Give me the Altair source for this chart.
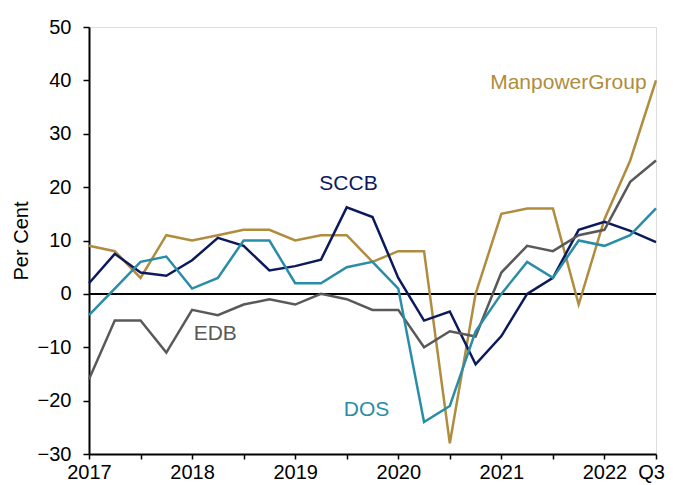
import altair as alt
import pandas as pd

quarters = list(range(23))  # 2017 Q1 .. 2022 Q3

manpower = [9, 8, 3, 11, 10, 11, 12, 12, 10, 11, 11, 6, 8, 8, -28, 0, 15, 16, 16, -2, 14, 25, 40]
sccb = [2, 7.5, 4, 3.4, 6.3, 10.5, 9, 4.4, 5.2, 6.4, 16.2, 14.4, 3, -5, -3.3, -13.2, -7.9, 0, 3, 12, 13.5, 11.8, 9.7]
edb = [-16, -5, -5, -11, -3, -4, -2, -1, -2, 0, -1, -3, -3, -10, -7, -8, 4, 9, 8, 11, 12, 21, 25]
dos = [-4, 1, 6, 7, 1, 3, 10, 10, 2, 2, 5, 6, 1, -24, -21, -7, 0, 6, 3, 10, 9, 11, 16]

series_names = ["ManpowerGroup", "SCCB", "EDB", "DOS"]
series_colors = ["#B08C3E", "#0C1A5B", "#595959", "#2A8DA8"]

tick_labels = {0: "2017", 4: "2018", 8: "2019", 12: "2020", 16: "2021", 20: "2022", 22: "Q3"}

label_x = [18.6, 10.07, 4.9, 10.77]
label_y = [39.6, 20.5, -7.5, -21.8]

rows = []
for name, vals in zip(series_names, [manpower, sccb, edb, dos]):
    for q, v in zip(quarters, vals):
        rows.append({"q": q, "value": v, "series": name})
df = pd.DataFrame(rows)

lab_df = pd.DataFrame({"series": series_names, "x": label_x, "y": label_y})

label_expr = "{" + ",".join(f"'{k}':'{v}'" for k, v in tick_labels.items()) + "}[datum.value] || ''"

x_scale = alt.Scale(domain=[0, 22], nice=False, zero=False)
y_scale = alt.Scale(domain=[-30, 50], nice=False)
color_scale = alt.Scale(domain=series_names, range=series_colors)

FONT = "Liberation Sans"

lines = alt.Chart(df).mark_line(strokeWidth=2.5, strokeJoin="miter").encode(
    x=alt.X("q:Q", scale=x_scale,
            axis=alt.Axis(values=quarters, labelExpr=label_expr, title=None, grid=False,
                          domainColor="black", domainWidth=2, tickColor="black", tickWidth=1.5,
                          tickSize=5, labelFontSize=20, labelColor="black", labelFont=FONT,
                          labelPadding=3, labelOverlap=False, labelFlush=False,
                          labelOffset={"expr": "datum.value == 22 ? -5 : 0"})),
    y=alt.Y("value:Q", scale=y_scale,
            axis=alt.Axis(values=list(range(-30, 51, 10)), title="Per Cent", grid=False,
                          domainColor="black", domainWidth=2, tickColor="black", tickWidth=1.5,
                          tickSize=6, labelFontSize=20, labelColor="black", labelFont=FONT,
                          titleFontSize=20, titleFontWeight="normal", titleFont=FONT,
                          titleColor="black", titlePadding=6, labelPadding=12)),
    color=alt.Color("series:N", scale=color_scale, legend=None),
    detail="series:N",
)

zero = alt.Chart(pd.DataFrame({"y": [0]})).mark_rule(color="black", strokeWidth=2).encode(
    y=alt.Y("y:Q", scale=y_scale)
)

labels = alt.Chart(lab_df).mark_text(fontSize=21, font=FONT).encode(
    x=alt.X("x:Q", scale=x_scale),
    y=alt.Y("y:Q", scale=y_scale),
    text="series:N",
    color=alt.Color("series:N", scale=color_scale, legend=None),
)

chart = alt.layer(zero, lines, labels).properties(
    width=567, height=427,
    autosize=alt.AutoSizeParams(type="none"),
    padding={"left": 81, "top": 19, "right": 9, "bottom": 30},
).configure_view(stroke=None).configure(background="white")

chart.save("out.html", embed_options={"renderer": "svg", "actions": False})
